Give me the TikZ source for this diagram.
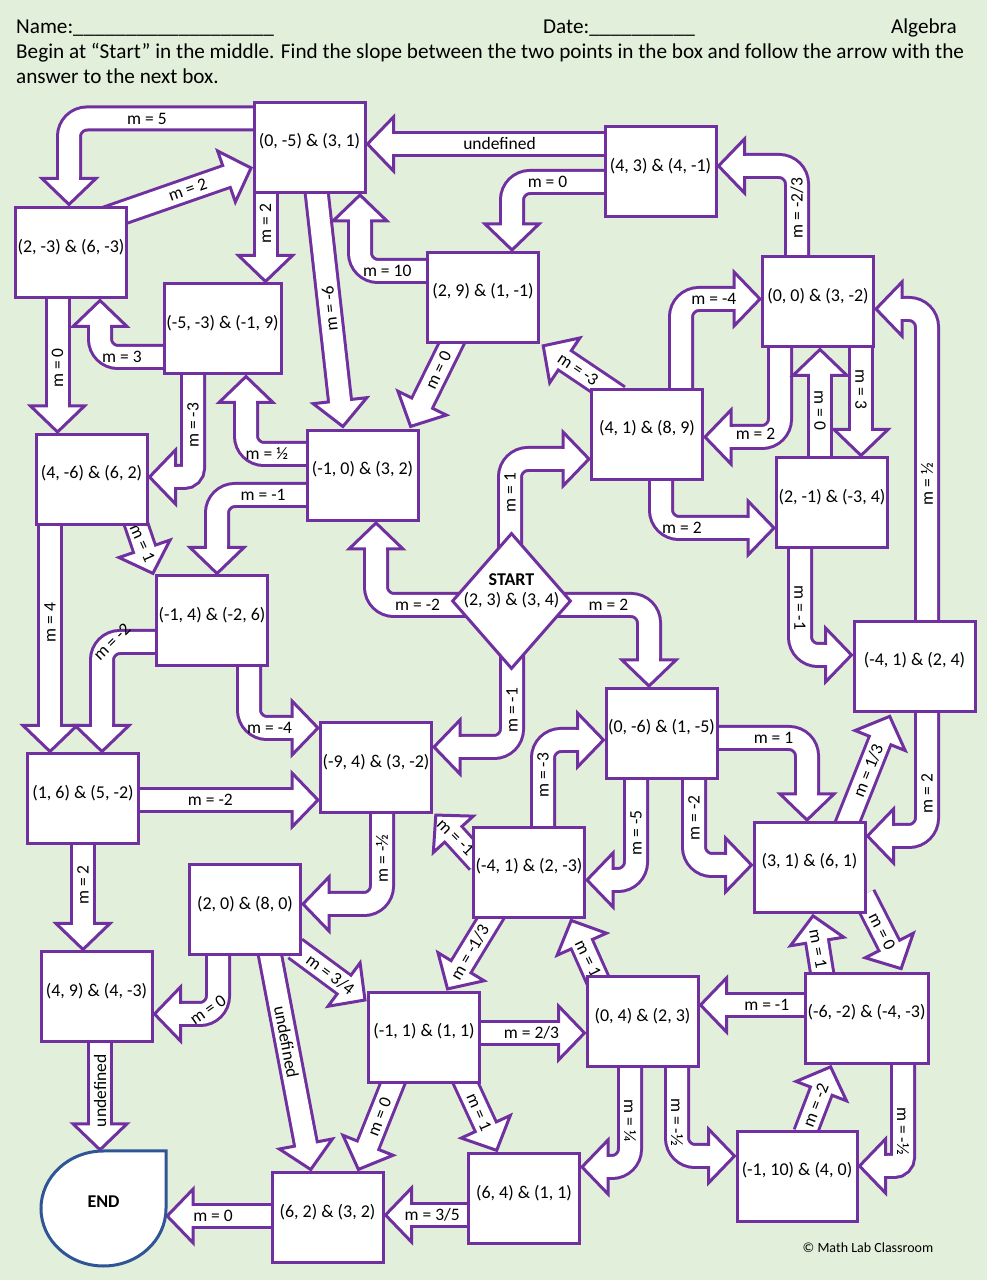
\documentclass[tikz,border=0pt]{standalone}
\usepackage{fontspec}
\setmainfont{Carlito}
\usetikzlibrary{shapes.geometric,decorations.markings}

\definecolor{mpurple}{HTML}{7030A0}
\definecolor{mgreen}{HTML}{E2EFDA}
\definecolor{mblue}{HTML}{2F5597}

\pgfdeclarelayer{paper}
\pgfdeclarelayer{arrows}
\pgfsetlayers{paper,arrows,main}

\tikzset{
  box/.style={draw=mpurple, line width=3pt, fill=white, minimum width=111pt, minimum height=90pt,
    inner sep=0pt, text height=13pt, text depth=14pt, font=\fontsize{18}{18}\selectfont},
  lab/.style={font=\fontsize{17.5}{17.5}\selectfont, inner sep=0pt, outer sep=0pt},
  hdr/.style={font=\fontsize{21.2}{21.2}\selectfont, inner sep=0pt},
  blk/.style={draw=white, line width=20pt, rounded corners=18pt,
    preaction={draw=mpurple, line width=26pt},
    postaction={decorate, decoration={markings, mark=at position 1 with {
      \filldraw[fill=white, draw=mpurple, line width=3pt, sharp corners, line join=miter]
        (0,-27) -- (26,0) -- (0,27) -- cycle;
      \fill[white, sharp corners] (-2,-10) rectangle (2.5,10);}}}},
}

\begin{document}
\begin{tikzpicture}[x=1pt,y=1pt]
\useasboundingbox (0,0) rectangle (987,1280);
\begin{pgfonlayer}{paper}
  \fill[mgreen] (0,0) rectangle (987,1280);
\end{pgfonlayer}

% header
\node[hdr, anchor=base west] (name) at (16,1246.5) {Name:\_\_\_\_\_\_\_\_\_\_\_\_\_\_\_\_\_\_\_};
\node[hdr, anchor=base west] (date) at (543,1246.5) {Date:\_\_\_\_\_\_\_\_\_\_};
\node[hdr, anchor=base east] (subject) at (957,1246.5) {Algebra};
\node[hdr, anchor=base west] (line1) at (16,1221.5) {Begin at “Start” in the middle. Find the slope between the two points in the box and follow the arrow with the};
\node[hdr, anchor=base west] (line2) at (16,1196.5) {answer to the next box.};

% boxes
\node[box] (b1) at (309.5,1132.5) {(0, -5) \& (3, 1)};
\node[box] (b2) at (71,1027) {(2, -3) \& (6, -3)};
\node[box, minimum width=117pt] (b3) at (222.5,951) {(-5, -3) \& (-1, 9)};
\node[box] (b4) at (660.5,1108) {(4, 3) \& (4, -1)};
\node[box] (b5) at (483,982.5) {(2, 9) \& (1, -1)};
\node[box] (b6) at (818,978) {(0, 0) \& (3, -2)};
\node[box] (b7) at (647,845.5) {(4, 1) \& (8, 9)};
\node[box] (b8) at (362.5,804.5) {(-1, 0) \& (3, 2)};
\node[box] (b9) at (91.5,800.5) {(4, -6) \& (6, 2)};
\node[box] (b10) at (832,777) {(2, -1) \& (-3, 4)};
\node[box] (b11) at (212,659) {(-1, 4) \& (-2, 6)};
\node[box, minimum width=121pt] (b13) at (914.5,613.5) {(-4, 1) \& (2, 4)};
\node[box] (b14) at (83,481) {(1, 6) \& (5, -2)};
\node[box] (b15) at (376,512) {(-9, 4) \& (3, -2)};
\node[box] (b16) at (661.5,546.5) {(0, -6) \& (1, -5)};
\node[box] (b17) at (529,407.5) {(-4, 1) \& (2, -3)};
\node[box] (b18) at (809.5,412.5) {(3, 1) \& (6, 1)};
\node[box] (b19) at (245,370) {(2, 0) \& (8, 0)};
\node[box] (b20) at (96.5,283) {(4, 9) \& (4, -3)};
\node[box] (b21) at (424,242.5) {(-1, 1) \& (1, 1)};
\node[box] (b22) at (642.5,258) {(0, 4) \& (2, 3)};
\node[box, minimum width=123pt] (b23) at (866.5,261.5) {(-6, -2) \& (-4, -3)};
\node[box, minimum width=120pt] (b24) at (797,103.5) {(-1, 10) \& (4, 0)};
\node[box] (b25) at (524,81) {(6, 4) \& (1, 1)};
\node[box] (b26) at (327.5,62) {(6, 2) \& (3, 2)};

% start and end
\node[diamond, draw=mpurple, line width=3pt, fill=white, minimum width=119pt, minimum height=136pt, inner sep=0pt] (start) at (511.5,679) {};
\node[font=\fontsize{18}{20}\selectfont, align=center, inner sep=0pt] (starttxt) at (511.5,689) {\textbf{START}\\(2, 3) \& (3, 4)};
\draw[mblue, line width=3pt, fill=white] (166,129) -- (103.5,129) arc[start angle=90, end angle=360, x radius=62.5, y radius=57.5] -- cycle;
\node[font=\bfseries\fontsize{18}{18}\selectfont, minimum width=125pt, minimum height=115pt, inner sep=0pt, text height=13pt, text depth=14pt] (end) at (103.5,71.5) {END};

\node[font=\fontsize{14}{14}\selectfont, inner sep=0pt] (copy) at (868,32) {© Math Lab Classroom};

\begin{pgfonlayer}{arrows}
% top part
\draw[blk] ([xshift=2pt,yshift=29pt]b1.west) -| node[lab,pos=0.29] (l1) {m = 5} ([xshift=-2pt,yshift=28pt]b2.north);
\draw[blk] ([xshift=-31pt,yshift=-15pt]b2.north east) -- node[lab,pos=0.7,rotate=19.4] (l2) {m = 2} ([xshift=-26pt,yshift=-29pt]b1.west);
\draw[blk] ([xshift=-44pt,yshift=2pt]b1.south) -- node[lab,pos=0.5,rotate=90] (l3) {m = 2} ([xshift=43pt,yshift=27pt]b3.north);
\draw[blk] ([xshift=6.5pt,yshift=7.5pt]b1.south) -- node[lab,pos=0.57,rotate=96] (l4) {m = -6} ([xshift=-22.5pt,yshift=28.3pt]b8.north);
\draw[blk] ([xshift=2pt,yshift=28pt]b4.west) -- node[lab,pos=0.5] (l5) {undefined} ([xshift=27pt,yshift=3.5pt]b1.east);
\draw[blk] ([xshift=2pt,yshift=-10pt]b4.west) -| node[lab,pos=0.31] (l6) {m = 0} ([xshift=29pt,yshift=27pt]b5.north);
\draw[blk] ([xshift=2pt,yshift=26.5pt]b5.west) -| node[lab,pos=0.3] (l7) {m = 10} ([xshift=50.5pt,yshift=-27pt]b1.south);
\draw[blk] ([xshift=-27pt,yshift=9.5pt]b5.south) -- node[lab,pos=0.52,rotate=64.5] (l8) {m = 0} ([xshift=59.6pt,yshift=25.8pt]b8.north);
\draw[blk] ([xshift=28.5pt,yshift=-8.5pt]b7.north west) -- node[lab,pos=0.75,rotate=-34] (l9) {m = -3} ([xshift=24.7pt,yshift=-16.3pt]b5.south east);
\draw[blk] ([xshift=34pt,yshift=-2pt]b7.north) |- node[lab,pos=0.81] (l10) {m = -4} ([xshift=-27pt,yshift=3pt]b6.west);
\draw[blk] ([xshift=-38pt,yshift=2pt]b6.south) |- node[lab,pos=0.75,yshift=3pt] (l11) {m = 2} ([xshift=27pt,yshift=-2.5pt]b7.east);
\draw[blk] ([xshift=-12pt,yshift=-2pt]b10.north) -- node[lab,pos=0.58,rotate=-90] (l12) {m = 0} ([xshift=2pt,yshift=-27pt]b6.south);
\draw[blk] ([xshift=43pt,yshift=2pt]b6.south) -- node[lab,pos=0.52,rotate=-90] (l13) {m = 3} ([xshift=29pt,yshift=27pt]b10.north);
\draw[blk] ([xshift=12.5pt,yshift=-2pt]b13.north) |- node[lab,pos=0.22,rotate=90] (l14) {m = ½} ([xshift=27pt,yshift=-7pt]b6.east);
\draw[blk] ([xshift=14pt,yshift=2pt]b7.south) |- node[lab,pos=0.62] (l15) {m = 2} ([xshift=-27pt,yshift=-25pt]b10.west);
\draw[blk] ([xshift=-32pt,yshift=2pt]b10.south) |- node[lab,pos=0.28,rotate=-90] (l16) {m = -1} ([xshift=-27pt,yshift=11.5pt]b13.west);
\draw[blk] ([xshift=-21pt,yshift=-2pt]b6.north) |- node[lab,pos=0.27,rotate=90] (l58) {m = -2/3} ([xshift=27pt,yshift=6pt]b4.east);
% from start
\draw[blk] ([xshift=-1.5pt,yshift=-20pt]start.north) |- node[lab,pos=0.32,rotate=90] (l17) {m = 1} ([xshift=-27pt,yshift=-24.5pt]b7.west);
\draw[blk] ([xshift=20pt,yshift=-4pt]start.west) -| node[lab,pos=0.28] (l18) {m = -2} ([xshift=13.5pt,yshift=-27pt]b8.south);
\draw[blk] ([xshift=-20pt,yshift=-4pt]start.east) -| node[lab,pos=0.29] (l19) {m = 2} ([xshift=-12.5pt,yshift=27pt]b16.north);
\draw[blk] ([xshift=0.5pt,yshift=20pt]start.south) |- node[lab,pos=0.31,rotate=90] (l20) {m = -1} ([xshift=27pt,yshift=21pt]b15.east);
% left part
\draw[blk] ([xshift=2pt,yshift=21.5pt]b8.west) -| node[lab,pos=0.33] (l21) {m = ½} ([xshift=23.5pt,yshift=-27pt]b3.south);
\draw[blk] ([xshift=2pt,yshift=-19.5pt]b8.west) -| node[lab,pos=0.245] (l22) {m = -1} ([xshift=5pt,yshift=27pt]b11.north);
\draw[blk, rounded corners=9pt] ([xshift=-29.5pt,yshift=2pt]b3.south) |- node[lab,pos=0.25,rotate=90] (l23) {m = -3} ([xshift=27pt,yshift=2.5pt]b9.east);
\draw[blk] ([xshift=2pt,yshift=-28pt]b3.west) -| node[lab,pos=0.33] (l24) {m = 3} ([xshift=29pt,yshift=-27pt]b2.south);
\draw[blk] ([xshift=-13.5pt,yshift=2pt]b2.south) -- node[lab,pos=0.65,rotate=90] (l25) {m = 0} ([xshift=-34pt,yshift=27pt]b9.north);
\draw[blk] ([xshift=-14pt,yshift=6.5pt]b9.south east) -- node[lab,pos=0.8,rotate=-66] (l26) {m = 1} ([xshift=-10.5pt,yshift=25.7pt]b11.north west);
\draw[blk] ([xshift=-41.5pt,yshift=2pt]b9.south) -- node[lab,pos=0.49,rotate=90] (l27) {m = 4} ([xshift=-33pt,yshift=27pt]b14.north);
\draw[blk] ([xshift=2pt,yshift=-21pt]b11.west) -| node[lab,pos=0.5,rotate=45,xshift=7pt,yshift=-7pt] (l28) {m = -2} ([xshift=19pt,yshift=27pt]b14.north);
\draw[blk] ([xshift=37pt,yshift=2pt]b11.south) |- node[lab,pos=0.74] (l29) {m = -4} ([xshift=-27pt,yshift=40pt]b15.west);
\draw[blk] ([xshift=-2pt,yshift=-1pt]b14.east) -- node[lab,pos=0.47] (l30) {m = -2} ([xshift=-27pt,yshift=-32pt]b15.west);
\draw[blk] ([yshift=2pt]b14.south) -- node[lab,pos=0.52,rotate=90] (l31) {m = 2} ([xshift=-13.5pt,yshift=27pt]b20.north);
\draw[blk] ([xshift=6pt,yshift=2pt]b15.south) |- node[lab,pos=0.25,rotate=90] (l32) {m = -½} ([xshift=27pt,yshift=6pt]b19.east);
% middle part
\draw[blk] ([xshift=6.5pt,yshift=10.5pt]b17.west) -- node[lab,pos=0.9,rotate=-45] (l33) {m = -1} ([xshift=20.3pt,yshift=-19.8pt]b15.south east);
\draw[blk] ([xshift=14pt,yshift=-2pt]b17.north) |- node[lab,pos=0.3,rotate=90] (l34) {m = -3} ([xshift=-27pt,yshift=-6.5pt]b16.west);
\draw[blk] ([xshift=-25.5pt,yshift=2pt]b16.south) |- node[lab,pos=0.27,rotate=90] (l35) {m = -5} ([xshift=27pt,yshift=-7.5pt]b17.east);
\draw[blk] ([xshift=-2pt,yshift=-4.5pt]b16.east) -| node[lab,pos=0.315] (l36) {m = 1} ([xshift=-2.5pt,yshift=27pt]b18.north);
\draw[blk] ([xshift=32.5pt,yshift=2pt]b16.south) |- node[lab,pos=0.23,rotate=90] (l37) {m = -2} ([xshift=-27pt,yshift=2.5pt]b18.west);
\draw[blk] ([xshift=35.5pt,yshift=-7.5pt]b18.north) -- node[lab,pos=0.66,rotate=68] (l38) {m = 1/3} ([xshift=27.6pt,yshift=-27.5pt]b13.south west);
\draw[blk] ([xshift=12.5pt,yshift=2pt]b13.south) |- node[lab,pos=0.33,rotate=90] (l39) {m = 2} ([xshift=27pt,yshift=31.5pt]b18.east);
\draw[blk] ([xshift=-3pt,yshift=19pt]b18.south east) -- node[lab,pos=0.72,rotate=-63] (l40) {m = 0} ([xshift=22.8pt,yshift=26.5pt]b23.north);
\draw[blk] ([xshift=19.5pt,yshift=-6.5pt]b23.north west) -- node[lab,pos=0.8,rotate=-79.5] (l41) {m = 1} ([xshift=7.6pt,yshift=-27.5pt]b18.south);
% bottom part
\draw[blk] ([xshift=2pt,yshift=13.5pt]b23.west) -- node[lab,pos=0.49] (l42) {m = -1} ([xshift=27pt,yshift=17pt]b22.east);
\draw[blk, rounded corners=9pt] ([xshift=36.5pt,yshift=2pt]b23.south) |- node[lab,pos=0.33,rotate=-90] (l43) {m = -½} ([xshift=27pt,yshift=10.5pt]b24.east);
\draw[blk] ([xshift=8pt,yshift=-3.5pt]b24.north) -- node[lab,pos=0.66,rotate=68.6] (l44) {m = -2} ([xshift=17.8pt,yshift=-26.1pt]b23.south west);
\draw[blk] ([xshift=34.5pt,yshift=2pt]b22.south) |- node[lab,pos=0.31,rotate=-90] (l45) {m = -½} ([xshift=-27pt,yshift=20.5pt]b24.west);
\draw[blk] ([xshift=-12.5pt,yshift=2pt]b22.south) |- node[lab,pos=0.27,rotate=-90] (l46) {m = ¼} ([xshift=27pt,yshift=32pt]b25.east);
\draw[blk] ([xshift=-2pt,yshift=4.5pt]b21.east) -- node[lab,pos=0.66] (l47) {m = 2/3} ([xshift=-27pt,yshift=-11pt]b22.west);
\draw[blk] ([xshift=38.6pt,yshift=7.5pt]b21.south) -- node[lab,pos=0.71,rotate=-66.4] (l48) {m = 1} ([xshift=-38.2pt,yshift=25.7pt]b25.north);
\draw[blk] ([xshift=-28.5pt,yshift=7.5pt]b21.south) -- node[lab,pos=0.585,rotate=69] (l49) {m = 0} ([xshift=40.5pt,yshift=26.2pt]b26.north);
\draw[blk] ([xshift=-6.8pt,yshift=8pt]b19.south east) -- node[lab,pos=0.72,rotate=-37] (l50) {m = 3/4} ([xshift=-22.9pt,yshift=6.4pt]b21.north west);
\draw[blk] ([xshift=24.3pt,yshift=5pt]b19.south) -- node[lab,pos=0.47,rotate=-79.4] (l51) {undefined} ([xshift=-21.6pt,yshift=27.5pt]b26.north);
\draw[blk] ([xshift=-27pt,yshift=2pt]b19.south) |- node[lab,pos=0.5,rotate=35,xshift=-6pt,yshift=9pt] (l52) {m = 0} ([xshift=27pt,yshift=-17pt]b20.east);
\draw[blk] ([xshift=3.5pt,yshift=2pt]b20.south) -- node[lab,pos=0.6,rotate=90] (l53) {undefined} ([xshift=-3.5pt,yshift=27pt]end.north);
\draw[blk] ([xshift=2pt,yshift=2pt]b26.west) -- node[lab,pos=0.75] (l54) {m = 0} ([xshift=27pt,yshift=-7.5pt]end.east);
\draw[blk] ([xshift=2pt,yshift=-16pt]b25.west) -- node[lab,pos=0.64] (l55) {m = 3/5} ([xshift=27pt,yshift=3pt]b26.east);
\draw[blk] ([xshift=-34.3pt,yshift=7.5pt]b17.south) -- node[lab,pos=0.74,rotate=60] (l56) {m = -1/3} ([xshift=37pt,yshift=24.2pt]b21.north);
\draw[blk] ([xshift=13.4pt,yshift=-7pt]b22.north west) -- node[lab,pos=0.63,rotate=-64] (l57) {m = 1} ([xshift=-4.2pt,yshift=-25.2pt]b17.south east);
\end{pgfonlayer}
\end{tikzpicture}
\end{document}
